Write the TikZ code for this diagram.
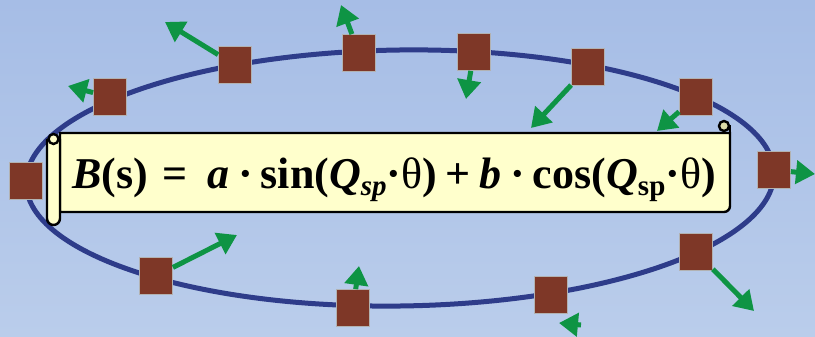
\documentclass[tikz,border=0pt]{standalone}
\usepackage{fontspec}
\setmainfont{Liberation Serif}
\usetikzlibrary{arrows.meta}
\definecolor{bgtop}{HTML}{A6BDE6}
\definecolor{bgbot}{HTML}{BACDEB}
\definecolor{ring}{HTML}{2E3C8A}
\definecolor{magnet}{HTML}{7E3727}
\definecolor{kick}{HTML}{0E9444}
\definecolor{scroll}{HTML}{FFFFCC}
\definecolor{curl}{HTML}{DCDCA8}
\newcommand\mysub[1]{\raisebox{-6pt}{\fontsize{29}{29}\selectfont #1}}
\begin{document}
\begin{tikzpicture}[x=1pt,y=-1pt,
  magbox/.style={draw=gray!60, line width=0.8pt, fill=magnet, minimum width=33pt, minimum height=37pt, inner sep=0pt},
  kickarrow/.style={draw=kick, line width=5pt, -{Triangle[length=19pt,width=23pt]}},
  scrollline/.style={draw=black, line width=2.4pt, fill=scroll}]
\shade[top color=bgtop,bottom color=bgbot] (0,0) rectangle (815,337);
\useasboundingbox (0,0) rectangle (815,337);
% ring
\draw[ring, line width=5pt, rotate around={0.8:(400,178)}] (400,178) ellipse [x radius=374pt, y radius=128pt];
% magnets
\node[magbox] (m1) at (26,181) {};
\node[magbox] (m2) at (110,97) {};
\node[magbox] (m3) at (235,65) {};
\node[magbox] (m4) at (359,53) {};
\node[magbox] (m5) at (474,52) {};
\node[magbox] (m6) at (588,67) {};
\node[magbox] (m7) at (696,97) {};
\node[magbox] (m8) at (774,170) {};
\node[magbox] (m9) at (696,252) {};
\node[magbox] (m10) at (551,295) {};
\node[magbox] (m11) at (353,308) {};
\node[magbox] (m12) at (156,276) {};
% kick tips
\coordinate (t2) at (68,86);
\coordinate (t3) at (165,22);
\coordinate (t4) at (341,5);
\coordinate (t5) at (466,99);
\coordinate (t6) at (531,128);
\coordinate (t7) at (657,131);
\coordinate (t8) at (815,174);
\coordinate (t9) at (754,311);
\coordinate (a10) at (581,325);
\coordinate (t10) at (559,323);
\coordinate (t11) at (359,266);
\coordinate (t12) at (237,235);
\draw[kickarrow] (m2) -- (t2);
\draw[kickarrow] (m3) -- (t3);
\draw[kickarrow] (m4) -- (t4);
\draw[kickarrow] (m5) -- (t5);
\draw[kickarrow] (m6) -- (t6);
\draw[kickarrow] (m7) -- (t7);
\draw[kickarrow] (m8) -- (t8);
\draw[kickarrow] (m9) -- (t9);
\draw[kickarrow] (a10) -- (t10);
\draw[kickarrow] (m11) -- (t11);
\draw[kickarrow] (m12) -- (t12);
% scroll banner
\path[scrollline] (60,133) -- (730,133) -- (730,206) .. controls (730,209.3) and (727.3,212) .. (724,212) -- (60,212) -- cycle;
\path[scrollline] (47,140) -- (47,218.5) .. controls (47,222.1) and (49.9,225) .. (53.5,225) .. controls (57.1,225) and (60,222.1) .. (60,218.5) -- (60,140) -- cycle;
\path[scrollline] (53.5,139) circle [radius=5pt];
\draw[black, line width=2.4pt] (730,125) -- (730,133);
\path[scrollline, fill=curl] (724,126) circle [radius=5pt];
% formula
\node[anchor=base, font=\fontsize{44}{52}\selectfont\bfseries, inner sep=0pt] (eq) at (394,189)
 {\textit{B}(s)\hspace{15pt}=\hspace{19pt}\textit{a}\hspace{9pt}·\hspace{8pt}sin(\textit{Q}\mysub{\textit{sp}}·{\mdseries θ})\hspace{8pt}+\hspace{9pt}\textit{b}\hspace{9pt}·\hspace{8pt}cos(\textit{Q}\mysub{sp}·{\mdseries θ})};
\end{tikzpicture}
\end{document}
